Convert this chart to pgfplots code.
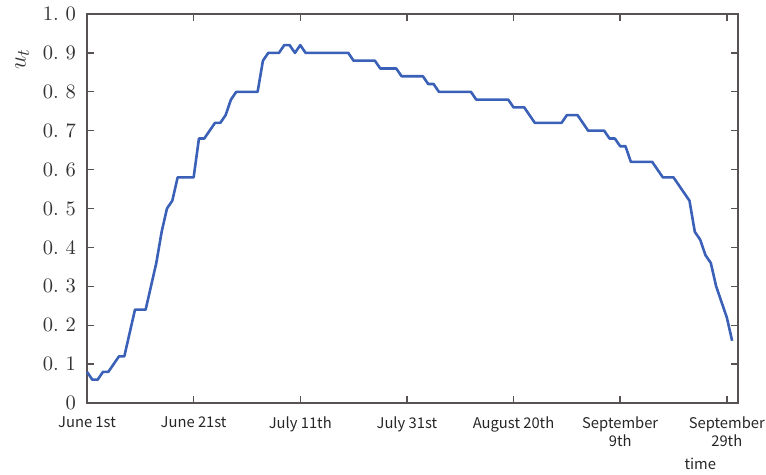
\documentclass[border=0pt]{standalone}
\usepackage{fontspec}
\usepackage{pgfplots}
\pgfplotsset{compat=1.18}
\newfontfamily\cjk{Noto Sans CJK SC}
\definecolor{lineblue}{RGB}{58,96,184}
\definecolor{axisgray}{RGB}{89,82,82}

% u_t by day, counted from June 1st
\pgfplotstableread{
day u
0 0.08
1 0.06
2 0.06
3 0.08
4 0.08
6 0.12
7 0.12
9 0.24
11 0.24
12 0.30
13 0.36
14 0.44
15 0.50
16 0.52
17 0.58
20 0.58
21 0.68
22 0.68
23 0.70
24 0.72
25 0.72
26 0.74
27 0.78
28 0.80
32 0.80
33 0.88
34 0.90
36 0.90
37 0.92
38 0.92
39 0.90
40 0.92
41 0.90
49 0.90
50 0.88
54 0.88
55 0.86
58 0.86
59 0.84
63 0.84
64 0.82
65 0.82
66 0.80
72 0.80
73 0.78
79 0.78
80 0.76
82 0.76
84 0.72
89 0.72
90 0.74
92 0.74
93 0.72
94 0.70
97 0.70
98 0.68
99 0.68
100 0.66
101 0.66
102 0.62
106 0.62
108 0.58
110 0.58
111.5 0.55
113 0.52
114 0.44
115 0.42
116 0.38
117 0.36
118 0.30
119 0.26
120 0.22
121 0.16
}\utdata

\begin{document}
\begin{tikzpicture}
\begin{axis}[
  scale only axis,
  width=325.5bp, height=194.5bp,
  xmin=0, xmax=122.1,
  ymin=0, ymax=1,
  axis line style={axisgray, line width=0.7pt},
  tick style={axisgray, line width=0.7pt},
  tick align=inside,
  major tick length=3.5bp,
  xtick={0,20,40,60,80,100,120},
  xticklabels={June 1st,June 21st,July 11th,July 31st,August 20th,{September\\9th},{September\\29th}},
  xticklabel style={font=\cjk\fontsize{7.4}{8.8}\selectfont, align=center, anchor=north, yshift=-3.5bp, text=black!85},
  ytick={0,0.1,...,1.0},
  yticklabels={0,0.\ 1,0.\ 2,0.\ 3,0.\ 4,0.\ 5,0.\ 6,0.\ 7,0.\ 8,0.\ 9,1.\ 0},
  yticklabel style={font=\fontsize{10.3}{12}\selectfont, xshift=-2bp, text=black!80},
  xlabel={time},
  xlabel style={font=\cjk\fontsize{7.4}{8.8}\selectfont, at={(ticklabel cs:0.942)}, anchor=north, yshift=1bp, text=black!85},
  ylabel={$u_t$},
  ylabel style={font=\fontsize{12.5}{14}\selectfont, at={(ticklabel cs:0.92)}, anchor=near ticklabel, xshift=-7bp, text=black!80},
  clip=false,
]
\addplot[lineblue, line width=1.3pt, line join=round] table[x=day, y=u] {\utdata};
\coordinate (O) at (rel axis cs:0,0);
\end{axis}
\pgfresetboundingbox
\path[use as bounding box] (O) ++(-43.5bp,-36bp) rectangle ++(383bp,237.5bp);
\end{tikzpicture}
\end{document}
